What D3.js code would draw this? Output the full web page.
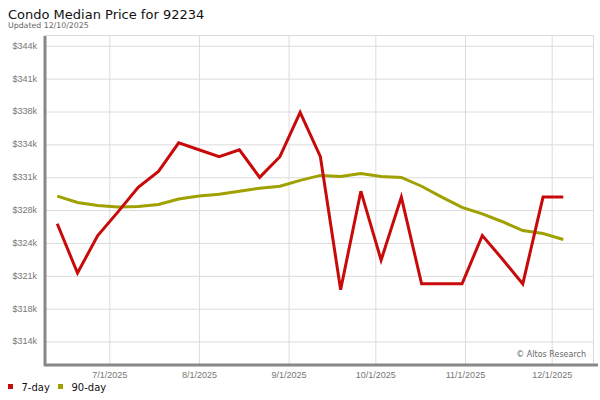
<!DOCTYPE html>
<html>
<head>
<meta charset="utf-8">
<script src="https://cdn.jsdelivr.net/npm/d3@7"></script>
<style>
  body { margin: 0; background: #fff; }
  svg { display: block; font-family: "DejaVu Sans", Verdana, sans-serif; }
  .grid line { stroke: #dcdcdc; stroke-width: 1; }
  .grid path { display: none; }
  .tick text { fill: #777; font-size: 9px; }
</style>
</head>
<body>
<script>
// weekly points (Fridays)
var dates = ["2025-06-13","2025-06-20","2025-06-27","2025-07-04","2025-07-11","2025-07-18",
             "2025-07-25","2025-08-01","2025-08-08","2025-08-15","2025-08-22","2025-08-29",
             "2025-09-05","2025-09-12","2025-09-19","2025-09-26","2025-10-03","2025-10-10",
             "2025-10-17","2025-10-24","2025-10-31","2025-11-07","2025-11-14","2025-11-21",
             "2025-11-28","2025-12-05"];

var day7 = [326100, 321100, 324900, 327300, 329800, 331400, 334300, 333600, 332900, 333600,
            330800, 332900, 337400, 332900, 319400, 329400, 322400, 328800, 320000, 320000,
            320000, 324900, 322500, 320000, 328800, 328800];

var day90 = [328900, 328250, 327950, 327800, 327850, 328050, 328600, 328900, 329100, 329400,
             329700, 329900, 330500, 331000, 330900, 331200, 330900, 330800, 329900, 328800,
             327750, 327100, 326300, 325400, 325100, 324500];

var yTicks = [314200, 317533, 320867, 324200, 327533, 330867, 334200, 337533, 340867, 344200];
var yTickLabels = ["$314k","$318k","$321k","$324k","$328k","$331k","$334k","$338k","$341k","$344k"];
var xTicks = ["2025-07-01","2025-08-01","2025-09-01","2025-10-01","2025-11-01","2025-12-01"];
var xTickLabels = ["7/1/2025","8/1/2025","9/1/2025","10/1/2025","11/1/2025","12/1/2025"];

var seriesNames = ["7-day", "90-day"];
var seriesColors = ["#c80a0a", "#a0a000"];

var W = 600, H = 400;
var plot = {left: 45, right: 593, top: 35, bottom: 364};

var parse = d3.timeParse("%Y-%m-%d");

var svg = d3.select("body").append("svg")
    .attr("width", W)
    .attr("height", H);

// anchors: 7/1 and 12/1 gridlines
var x = d3.scaleTime()
    .domain([parse("2025-07-01"), parse("2025-12-01")])
    .range([109.3, 551.7]);

var y = d3.scaleLinear()
    .domain([314200, 344200])
    .range([341, 45.3]);

// plot frame
svg.append("rect")
    .attr("x", plot.left)
    .attr("y", plot.top + 0.5)
    .attr("width", plot.right - plot.left + 0.5)
    .attr("height", plot.bottom - plot.top)
    .attr("fill", "#fff")
    .attr("stroke", "#dcdcdc");

// horizontal grid + y labels
var yAxis = d3.axisLeft(y)
    .tickValues(yTicks)
    .tickSize(-(plot.right - plot.left))
    .tickPadding(8)
    .tickFormat(function(d, i){ return yTickLabels[i]; });

svg.append("g")
    .attr("class", "grid")
    .attr("transform", "translate(" + plot.left + ",0)")
    .call(yAxis)
    .selectAll(".tick line").attr("transform", "translate(0,0.5)");

// vertical grid + x labels
var xAxis = d3.axisBottom(x)
    .tickValues(xTicks.map(parse))
    .tickSize(-(plot.bottom - plot.top))
    .tickPadding(8)
    .tickFormat(function(d, i){ return xTickLabels[i]; });

svg.append("g")
    .attr("class", "grid")
    .attr("transform", "translate(0," + plot.bottom + ")")
    .call(xAxis);

// axis lines
svg.append("line")
    .attr("x1", 45).attr("x2", 45)
    .attr("y1", plot.top + 1).attr("y2", 366)
    .attr("stroke", "#888").attr("stroke-width", 3);
svg.append("line")
    .attr("x1", 44).attr("x2", 598)
    .attr("y1", 365).attr("y2", 365)
    .attr("stroke", "#888").attr("stroke-width", 3);

// series lines
var line = d3.line()
    .x(function(d){ return x(d.date); })
    .y(function(d){ return y(d.value); });

[day90, day7].forEach(function(vals, k){
    var idx = k === 0 ? 1 : 0;
    var pts = vals.map(function(v, i){ return {date: parse(dates[i]), value: v}; });
    svg.append("path")
        .datum(pts)
        .attr("d", line)
        .attr("fill", "none")
        .attr("stroke", seriesColors[idx])
        .attr("stroke-width", 3)
        .attr("stroke-linejoin", "miter");
});

// titles
svg.append("text")
    .attr("x", 8).attr("y", 19)
    .attr("font-size", "13px")
    .attr("fill", "#111")
    .text("Condo Median Price for 92234");
svg.append("text")
    .attr("x", 8).attr("y", 28)
    .attr("font-size", "7.8px")
    .attr("fill", "#666")
    .text("Updated 12/10/2025");

// credit
svg.append("text")
    .attr("x", 586).attr("y", 356.5)
    .attr("text-anchor", "end")
    .attr("font-size", "8px")
    .attr("fill", "#666")
    .text("\u00a9 Altos Research");

// legend
var legendX = [8, 58];
var legend = svg.selectAll("g.legend")
    .data(seriesNames)
    .enter().append("g")
    .attr("class", "legend")
    .attr("transform", function(d, i){ return "translate(" + legendX[i] + ",384)"; });

legend.append("rect")
    .attr("width", 5).attr("height", 5)
    .attr("fill", function(d, i){ return seriesColors[i]; });

legend.append("text")
    .attr("x", 13.5).attr("y", 6.5)
    .attr("font-size", "10px")
    .attr("fill", "#111")
    .text(function(d){ return d; });
</script>
</body>
</html>
